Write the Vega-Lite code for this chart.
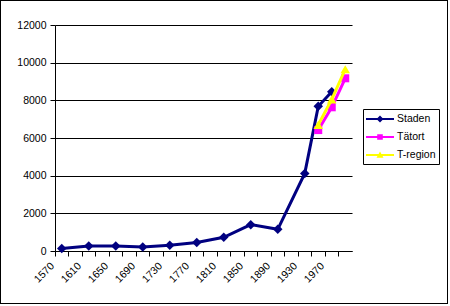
{
  "$schema": "https://vega.github.io/schema/vega-lite/v6.json",
  "width": 448,
  "height": 304,
  "autosize": "none",
  "padding": 0,
  "background": "white",
  "config": {
    "view": {"stroke": "black", "strokeWidth": 2},
    "font": "Liberation Sans",
    "axis": {"labelFont": "Liberation Sans", "labelFontSize": 10.5, "labelColor": "black", "domainColor": "black", "tickColor": "black", "tickSize": 5, "title": null},
    "legend": {"labelFont": "Liberation Sans", "labelFontSize": 10.5, "labelColor": "black"}
  },
  "data": {
    "values": [
      {"year": 1570, "series": "Staden", "value": 130},
      {"year": 1610, "series": "Staden", "value": 270},
      {"year": 1650, "series": "Staden", "value": 270},
      {"year": 1690, "series": "Staden", "value": 215},
      {"year": 1730, "series": "Staden", "value": 300},
      {"year": 1770, "series": "Staden", "value": 450},
      {"year": 1810, "series": "Staden", "value": 730},
      {"year": 1850, "series": "Staden", "value": 1400},
      {"year": 1890, "series": "Staden", "value": 1150},
      {"year": 1930, "series": "Staden", "value": 4120},
      {"year": 1950, "series": "Staden", "value": 7680},
      {"year": 1970, "series": "Staden", "value": 8460},
      {"year": 1950, "series": "Tätort", "value": 6420},
      {"year": 1970, "series": "Tätort", "value": 7630},
      {"year": 1990, "series": "Tätort", "value": 9170},
      {"year": 1950, "series": "T-region", "value": 6700},
      {"year": 1970, "series": "T-region", "value": 8050},
      {"year": 1990, "series": "T-region", "value": 9650}
    ]
  },
  "encoding": {
    "x": {
      "field": "year",
      "type": "ordinal",
      "scale": {
        "type": "band",
        "domain": [1570, 1590, 1610, 1630, 1650, 1670, 1690, 1710, 1730, 1750, 1770, 1790, 1810, 1830, 1850, 1870, 1890, 1910, 1930, 1950, 1970, 1990],
        "range": [55, 352],
        "paddingInner": 0,
        "paddingOuter": 0
      },
      "axis": {
        "bandPosition": 0,
        "labelAngle": -45,
        "labelAlign": "right",
        "labelBaseline": "middle",
        "labelOverlap": false,
        "labelPadding": 8,
        "labelOffset": -9,
        "labelExpr": "(datum.value - 1570) % 40 == 0 ? datum.label : ''",
        "offset": -53,
        "grid": false
      }
    },
    "y": {
      "field": "value",
      "type": "quantitative",
      "scale": {"domain": [0, 12000], "range": [251, 25], "nice": false, "zero": true},
      "axis": {
        "values": [0, 2000, 4000, 6000, 8000, 10000, 12000],
        "offset": -55,
        "grid": true,
        "gridColor": "black",
        "gridOpacity": 1,
        "labelPadding": 4,
        "format": "d"
      }
    }
  },
  "layer": [
    {"transform": [{"filter": "datum.series == 'Staden'"}], "mark": {"type": "line", "strokeWidth": 3, "color": "#000080"}},
    {"transform": [{"filter": "datum.series == 'Staden'"}], "mark": {"type": "point", "shape": "diamond", "filled": true, "size": 90, "opacity": 1, "color": "#000080"}},
    {"transform": [{"filter": "datum.series == 'Tätort'"}], "mark": {"type": "line", "strokeWidth": 3, "color": "#FF00FF"}},
    {"transform": [{"filter": "datum.series == 'Tätort'"}], "mark": {"type": "point", "shape": "square", "filled": true, "size": 64, "opacity": 1, "color": "#FF00FF"}},
    {"transform": [{"filter": "datum.series == 'T-region'"}], "mark": {"type": "line", "strokeWidth": 3, "color": "#FFFF00"}},
    {"transform": [{"filter": "datum.series == 'T-region'"}], "mark": {"type": "point", "shape": "triangle-up", "filled": true, "size": 90, "opacity": 1, "color": "#FFFF00"}},
    {
      "mark": {"type": "point", "filled": true, "size": 0, "opacity": 1, "strokeWidth": 0},
      "encoding": {
        "color": {
          "field": "series",
          "type": "nominal",
          "scale": {"domain": ["Staden", "Tätort", "T-region"], "range": ["#000080", "#FF00FF", "#FFFF00"]},
          "legend": {
            "orient": "none",
            "legendX": 363,
            "legendY": 109,
            "title": null,
            "strokeColor": "black",
            "fillColor": "white",
            "padding": 3,
            "rowPadding": 5,
            "labelOffset": 17,
            "symbolSize": 196,
            "symbolOpacity": 1,
            "symbolStrokeWidth": 0
          }
        },
        "shape": {
          "field": "series",
          "type": "nominal",
          "scale": {
            "domain": ["Staden", "Tätort", "T-region"],
            "range": [
              "M-1,-0.15H3V0.15H-1Z M1,-0.5L1.5,0L1,0.5L0.5,0Z",
              "M-1,-0.15H3V0.15H-1Z M0.6,-0.4H1.4V0.4H0.6Z",
              "M-1,-0.15H3V0.15H-1Z M1,-0.5L1.5,0.4H0.5Z"
            ]
          }
        }
      }
    }
  ]
}
